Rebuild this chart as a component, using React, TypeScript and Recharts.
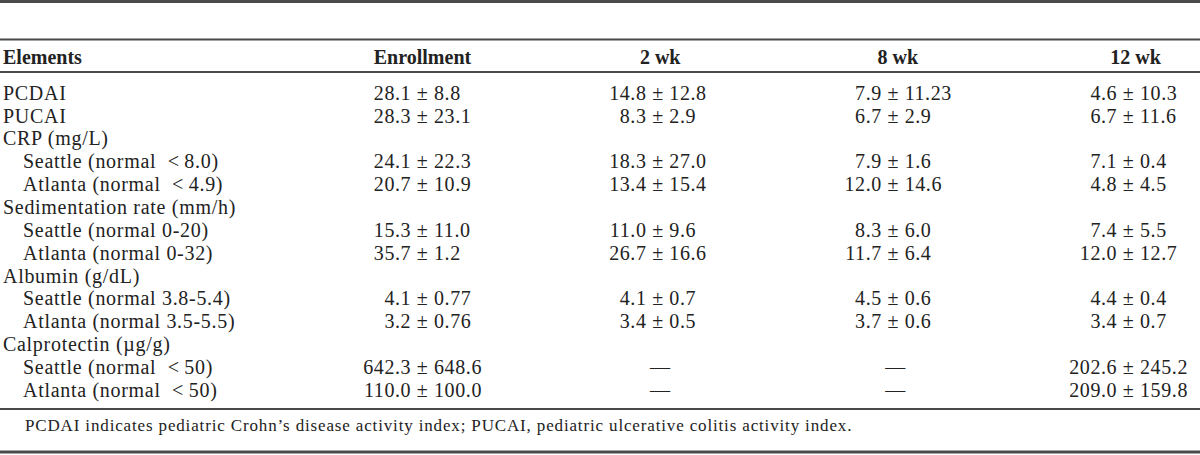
import { ScatterChart, Scatter, XAxis, YAxis } from "recharts";

const W = 1200;
const H = 455;

const columns = ["Enrollment", "2 wk", "8 wk", "12 wk"];

const rowLabels = [
  "PCDAI",
  "PUCAI",
  "CRP (mg/L)",
  "Seattle (normal\u00a0 <\u20098.0)",
  "Atlanta (normal\u00a0 <\u20094.9)",
  "Sedimentation rate (mm/h)",
  "Seattle (normal 0-20)",
  "Atlanta (normal 0-32)",
  "Albumin (g/dL)",
  "Seattle (normal 3.8-5.4)",
  "Atlanta (normal 3.5-5.5)",
  "Calprotectin (\u00b5g/g)",
  "Seattle (normal\u00a0 <\u200950)",
  "Atlanta (normal\u00a0 <\u200950)",
];
// 0 = group row, 1 = indented sub row
const rowLevel = [0, 0, 0, 1, 1, 0, 1, 1, 0, 1, 1, 0, 1, 1];

const enrollment = [
  "28.1 ± 8.8", "28.3 ± 23.1", null, "24.1 ± 22.3", "20.7 ± 10.9", null,
  "15.3 ± 11.0", "35.7 ± 1.2", null, "4.1 ± 0.77", "3.2 ± 0.76", null,
  "642.3 ± 648.6", "110.0 ± 100.0",
];
const wk2 = [
  "14.8 ± 12.8", "8.3 ± 2.9", null, "18.3 ± 27.0", "13.4 ± 15.4", null,
  "11.0 ± 9.6", "26.7 ± 16.6", null, "4.1 ± 0.7", "3.4 ± 0.5", null,
  "—", "—",
];
const wk8 = [
  "7.9 ± 11.23", "6.7 ± 2.9", null, "7.9 ± 1.6", "12.0 ± 14.6", null,
  "8.3 ± 6.0", "11.7 ± 6.4", null, "4.5 ± 0.6", "3.7 ± 0.6", null,
  "—", "—",
];
const wk12 = [
  "4.6 ± 10.3", "6.7 ± 11.6", null, "7.1 ± 0.4", "4.8 ± 4.5", null,
  "7.4 ± 5.5", "12.0 ± 12.7", null, "4.4 ± 0.4", "3.4 ± 0.7", null,
  "202.6 ± 245.2", "209.0 ± 159.8",
];

const footnote =
  "PCDAI indicates pediatric Crohn\u2019s disease activity index; PUCAI, pediatric ulcerative colitis activity index.";

const series = [enrollment, wk2, wk8, wk12];

const INK = "#222";
const RULE = "#4a4a4a";
const FONT = '"Liberation Serif", "Times New Roman", serif';
const FS = 20;
const LS = 0.6;

const cellData = (values: (string | null)[], col: number) =>
  values
    .map((v, row) => ({ col, row, v }))
    .filter((d) => d.v !== null);

const headData = columns.map((name, col) => ({ col, row: 0, name }));

// decimal aligned cell: split at the first point
function CellText(props: any) {
  const { cx, cy, payload } = props;
  const v: string = payload.v;
  const common = { y: cy, dy: "0.34em", fill: INK, fontSize: FS, letterSpacing: LS };
  if (v === "—") {
    return (
      <text {...common} x={cx + 30} textAnchor="middle">
        —
      </text>
    );
  }
  const dot = v.indexOf(".");
  return (
    <g>
      <text {...common} x={cx} textAnchor="end">
        {v.slice(0, dot)}
      </text>
      <text {...common} x={cx} textAnchor="start">
        {v.slice(dot)}
      </text>
    </g>
  );
}

function RowTick(props: any) {
  const { y, payload } = props;
  const i = payload.value;
  return (
    <text
      x={rowLevel[i] ? 23 : 3}
      y={y}
      dy="0.34em"
      fill={INK}
      fontSize={FS}
      letterSpacing={0.7}
      textAnchor="start"
    >
      {rowLabels[i]}
    </text>
  );
}

function HeadTick(props: any) {
  const { x, payload } = props;
  return (
    <text x={x} y={57.5} dy="0.34em" fill={INK} fontSize={FS} fontWeight="bold" textAnchor="middle">
      {columns[payload.value]}
    </text>
  );
}

const TopRules = () => (
  <g>
    <line x1={0} x2={W} y1={1.5} y2={1.5} stroke={RULE} strokeWidth={3} />
    <line x1={0} x2={W} y1={39.5} y2={39.5} stroke={RULE} strokeWidth={2} />
    <line x1={0} x2={W} y1={72} y2={72} stroke={RULE} strokeWidth={2} />
    <text x={3} y={57.5} dy="0.34em" fill={INK} fontSize={FS} fontWeight="bold">
      Elements
    </text>
  </g>
);

const Footer = () => (
  <g>
    <line x1={0} x2={W} y1={409} y2={409} stroke={RULE} strokeWidth={2} />
    <text x={25} y={425} dy="0.34em" fill={INK} fontSize={17} letterSpacing={0.85}>
      {footnote}
    </text>
    <line x1={0} x2={W} y1={452} y2={452} stroke={RULE} strokeWidth={3} />
  </g>
);

export default function App() {
  return (
    <div style={{ width: W, height: H, background: "#fff" }}>
      <style>{"body{margin:0}"}</style>
      <ScatterChart
        width={W}
        height={H}
        margin={{ top: 0, right: 0, bottom: 0, left: 0 }}
        style={{ fontFamily: FONT }}
      >
        <XAxis
          xAxisId="head"
          orientation="top"
          type="number"
          dataKey="col"
          domain={[0, 3]}
          ticks={[0, 1, 2, 3]}
          interval={0}
          height={72}
          padding={{ left: 122.5, right: 64.5 }}
          axisLine={false}
          tickLine={false}
          tick={<HeadTick />}
          label={<TopRules />}
        />
        <XAxis
          xAxisId="cell"
          orientation="bottom"
          type="number"
          dataKey="col"
          domain={[0, 3]}
          ticks={[0, 1, 2, 3]}
          height={46}
          padding={{ left: 95, right: 99 }}
          axisLine={false}
          tickLine={false}
          tick={false}
          label={<Footer />}
        />
        <YAxis
          type="number"
          dataKey="row"
          domain={[0, 13]}
          reversed
          ticks={rowLabels.map((_, i) => i)}
          interval={0}
          width={300}
          padding={{ top: 21, bottom: 19 }}
          axisLine={false}
          tickLine={false}
          tick={<RowTick />}
        />
        {/* header series: ties the column-title axis to data, draws nothing */}
        <Scatter
          xAxisId="head"
          data={headData}
          shape={() => <g />}
          isAnimationActive={false}
        />
        {series.map((values, col) => (
          <Scatter
            key={columns[col]}
            name={columns[col]}
            xAxisId="cell"
            data={cellData(values, col)}
            shape={<CellText />}
            isAnimationActive={false}
          />
        ))}
      </ScatterChart>
    </div>
  );
}
